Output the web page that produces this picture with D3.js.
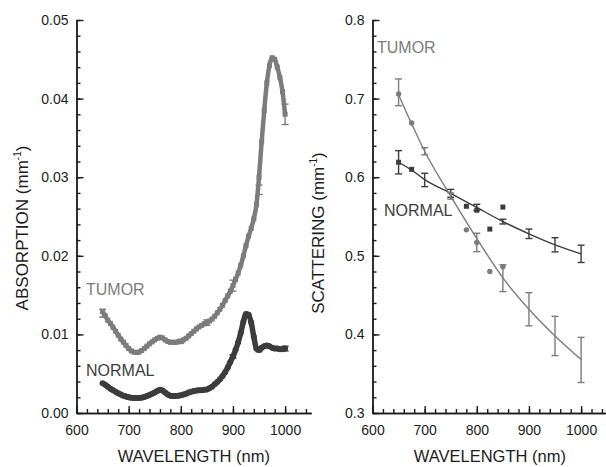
<!DOCTYPE html>
<html>
<head>
<meta charset="utf-8">
<script src="https://cdn.jsdelivr.net/npm/d3@7"></script>
<style>
  body { margin: 0; background: #fff; }
  text { font-family: "Liberation Sans", Arial, sans-serif; }
</style>
</head>
<body>
<div id="chart"></div>
<script>
// ---------- data ----------
// absorption spectra, 5 nm steps, values in 1e-3 mm^-1
var absWl = d3.range(650, 1001, 5);
var absTumor = [12.9, 12.4, 11.8, 11.4, 10.9, 10.4, 9.9, 9.4, 9.0, 8.6,
  8.2, 7.9, 7.75, 7.7, 7.75, 7.95, 8.2, 8.5, 8.8, 9.05,
  9.3, 9.5, 9.65, 9.55, 9.3, 9.1, 9.0, 9.0, 9.0, 9.05,
  9.15, 9.3, 9.5, 9.8, 10.1, 10.4, 10.7, 10.95, 11.15, 11.35,
  11.5, 11.7, 11.95, 12.3, 12.75, 13.2, 13.7, 14.3, 14.9, 15.5,
  16.2, 17.0, 17.8, 18.8, 20.0, 21.3, 22.5, 23.5, 24.7, 26.5,
  30.0, 34.5, 38.5, 42.0, 44.2, 45.2, 45.0, 44.0, 42.7, 40.9, 38.0];
var absNormal = [3.8, 3.6, 3.35, 3.1, 2.9, 2.7, 2.5, 2.35, 2.2, 2.1,
  2.0, 1.95, 1.9, 1.9, 1.9, 1.95, 2.05, 2.15, 2.3, 2.45,
  2.6, 2.8, 2.95, 2.85, 2.6, 2.35, 2.2, 2.15, 2.15, 2.2,
  2.25, 2.35, 2.45, 2.6, 2.7, 2.8, 2.85, 2.9, 2.9, 2.95,
  3.0, 3.15, 3.35, 3.65, 3.95, 4.3, 4.7, 5.2, 5.8, 6.5,
  7.2, 8.0, 9.0, 10.2, 11.6, 12.6, 12.5, 11.5, 9.7, 8.2,
  8.0, 8.3, 8.5, 8.6, 8.5, 8.3, 8.2, 8.2, 8.1, 8.1, 8.2];
// absorption error bars (wavelength, centre, half-width) in 1e-3 mm^-1
var absTumorErrWl = [650, 800, 850, 900, 950, 1000];
var absTumorErrVal = [12.7, 9.1, 11.5, 16.2, 28.4, 38.0];
var absTumorErr = [0.5, 0.25, 0.35, 0.7, 0.6, 1.3];
var absNormalErrWl = [900, 950, 1000];
var absNormalErrVal = [7.2, 8.0, 8.2];
var absNormalErr = [0.2, 0.2, 0.3];

// scattering: measured points
var scatWl = [650, 675, 780, 800, 825, 850];
var scatTumor = [0.706, 0.669, 0.533, 0.517, 0.480, 0.486];
var scatNormal = [0.619, 0.610, 0.563, 0.558, 0.534, 0.562];
// scattering: fitted curves with error bars
var fitWl = [650, 675, 700, 750, 800, 850, 900, 950, 1000];
var fitTumor = [0.705, 0.668, 0.633, 0.576, 0.522, 0.472, 0.432, 0.398, 0.368];
var fitNormal = [0.619, 0.609, 0.597, 0.5795, 0.5615, 0.5435, 0.528, 0.514, 0.5025];
var errWl = [650, 700, 750, 800, 850, 900, 950, 1000];
var errTumorVal = [0.708, 0.633, 0.576, 0.517, 0.4715, 0.432, 0.398, 0.3675];
var errTumor = [0.017, 0.0045, 0.004, 0.0117, 0.017, 0.021, 0.025, 0.0287];
var errNormalVal = [0.619, 0.5965, 0.5795, 0.5615, 0.5435, 0.528, 0.514, 0.5025];
var errNormal = [0.0148, 0.0085, 0.005, 0.004, 0.003, 0.006, 0.009, 0.011];

var xTicks = [600, 700, 800, 900, 1000];
var absTicks = [0, 0.01, 0.02, 0.03, 0.04, 0.05];
var scatTicks = [0.3, 0.4, 0.5, 0.6, 0.7, 0.8];

var cTumor = "#7c7c7c";
var cNormal = "#3c3c3c";
var cInk = "#1c1c1c";

// ---------- drawing ----------
var width = 606, height = 467;
var svg = d3.select("#chart").append("svg")
  .attr("width", width)
  .attr("height", height);

function panel(left, yDomain, yTicks, yFmt, yMinorStep, title, titleY) {
  var x = d3.scaleLinear().domain([600, 1050]).range([left, left + 450 * 0.5215]);
  var y = d3.scaleLinear().domain(yDomain).range([413, 20]);
  var g = svg.append("g");

  var xMinor = d3.range(600, 1050, 20);
  var yMinor = d3.range(yDomain[0], yDomain[1] + yMinorStep / 2, yMinorStep);

  g.append("g").attr("transform", "translate(0,413)")
    .call(d3.axisBottom(x).tickValues(xMinor).tickSizeInner(-4).tickSizeOuter(0).tickFormat(""));
  g.append("g").attr("transform", "translate(0,413)")
    .call(d3.axisBottom(x).tickValues(xTicks).tickSizeInner(-7).tickSizeOuter(0)
      .tickPadding(12).tickFormat(d3.format("d")));
  g.append("g").attr("transform", "translate(" + left + ",0)")
    .call(d3.axisLeft(y).tickValues(yMinor).tickSizeInner(-4).tickSizeOuter(0).tickFormat(""));
  g.append("g").attr("transform", "translate(" + left + ",0)")
    .call(d3.axisLeft(y).tickValues(yTicks).tickSizeInner(-7).tickSizeOuter(0)
      .tickPadding(8).tickFormat(yFmt));

  g.selectAll(".tick text").attr("font-size", "14px").attr("fill", cInk)
    .attr("font-family", "Liberation Sans, Arial, sans-serif");
  g.selectAll(".domain, .tick line").attr("stroke", cInk).attr("stroke-width", 1.4);

  g.append("text")
    .attr("x", (x.range()[0] + x.range()[1]) / 2)
    .attr("y", 462)
    .attr("text-anchor", "middle")
    .attr("font-size", "16.5px")
    .attr("fill", cInk)
    .text("WAVELENGTH (nm)");

  var t = g.append("text")
    .attr("transform", "translate(" + (left - 49) + "," + titleY + ") rotate(-90)")
    .attr("text-anchor", "middle")
    .attr("font-size", "17px")
    .attr("fill", cInk);
  t.append("tspan").text(title + " (mm");
  t.append("tspan").attr("font-size", "10px").attr("dy", "-7").text("-1");
  t.append("tspan").attr("dy", "7").text(")");

  return { g: g, x: x, y: y };
}

function errorBars(p, wl, val, err, color) {
  var sel = p.g.append("g").selectAll("g").data(wl).enter().append("g")
    .attr("stroke", color).attr("stroke-width", 1.4);
  sel.append("line")
    .attr("x1", function(d) { return p.x(d); }).attr("x2", function(d) { return p.x(d); })
    .attr("y1", function(d, i) { return p.y(val[i] - err[i]); })
    .attr("y2", function(d, i) { return p.y(val[i] + err[i]); });
  [1, -1].forEach(function(s) {
    sel.append("line")
      .attr("x1", function(d) { return p.x(d) - 3.5; }).attr("x2", function(d) { return p.x(d) + 3.5; })
      .attr("y1", function(d, i) { return p.y(val[i] + s * err[i]); })
      .attr("y2", function(d, i) { return p.y(val[i] + s * err[i]); });
  });
}

// ---- left: absorption ----
var pa = panel(76.5, [0, 0.05], absTicks, d3.format(".2f"), 0.002, "ABSORPTION", 228);

var absLine = d3.line()
  .x(function(d) { return pa.x(d[0]); })
  .y(function(d) { return pa.y(d[1] / 1000); })
  .curve(d3.curveMonotoneX);

var normPts = absWl.map(function(w, i) { return [w, absNormal[i]]; });
var tumPts = absWl.map(function(w, i) { return [w, absTumor[i]]; });

pa.g.append("path").datum(normPts).attr("d", absLine)
  .attr("fill", "none").attr("stroke", cNormal).attr("stroke-width", 5.5);
pa.g.append("g").selectAll("circle").data(normPts).enter().append("circle")
  .attr("cx", function(d) { return pa.x(d[0]); })
  .attr("cy", function(d) { return pa.y(d[1] / 1000); })
  .attr("r", 3).attr("fill", cNormal);
errorBars(pa, absNormalErrWl, absNormalErrVal.map(function(v) { return v / 1000; }),
  absNormalErr.map(function(v) { return v / 1000; }), cNormal);

pa.g.append("path").datum(tumPts).attr("d", absLine)
  .attr("fill", "none").attr("stroke", cTumor).attr("stroke-width", 4.5);
pa.g.append("g").selectAll("rect").data(tumPts).enter().append("rect")
  .attr("x", function(d) { return pa.x(d[0]) - 2.5; })
  .attr("y", function(d) { return pa.y(d[1] / 1000) - 2.5; })
  .attr("width", 5).attr("height", 5).attr("fill", cTumor);
errorBars(pa, absTumorErrWl, absTumorErrVal.map(function(v) { return v / 1000; }),
  absTumorErr.map(function(v) { return v / 1000; }), cTumor);

pa.g.append("text").attr("x", 86).attr("y", 295).attr("font-size", "16px")
  .attr("fill", cTumor).text("TUMOR");
pa.g.append("text").attr("x", 86).attr("y", 376).attr("font-size", "16px")
  .attr("fill", cNormal).text("NORMAL");

// ---- right: scattering ----
var ps = panel(372.5, [0.3, 0.8], scatTicks, d3.format(".1f"), 0.02, "SCATTERING", 233);

var fitLine = function(vals) {
  return d3.line()
    .x(function(d) { return ps.x(d); })
    .y(function(d, i) { return ps.y(vals[i]); })
    .curve(d3.curveMonotoneX)(fitWl);
};

ps.g.append("path").attr("d", fitLine(fitNormal))
  .attr("fill", "none").attr("stroke", cNormal).attr("stroke-width", 1.4);
ps.g.append("path").attr("d", fitLine(fitTumor))
  .attr("fill", "none").attr("stroke", cTumor).attr("stroke-width", 1.4);

errorBars(ps, errWl, errNormalVal, errNormal, cNormal);
errorBars(ps, errWl, errTumorVal, errTumor, cTumor);

ps.g.append("g").selectAll("rect").data(scatWl).enter().append("rect")
  .attr("x", function(d) { return ps.x(d) - 2.5; })
  .attr("y", function(d, i) { return ps.y(scatNormal[i]) - 2.5; })
  .attr("width", 5).attr("height", 5).attr("fill", cNormal);
ps.g.append("g").selectAll("circle").data(scatWl).enter().append("circle")
  .attr("cx", function(d) { return ps.x(d); })
  .attr("cy", function(d, i) { return ps.y(scatTumor[i]); })
  .attr("r", 2.7).attr("fill", cTumor);

ps.g.append("text").attr("x", 377).attr("y", 53).attr("font-size", "16px")
  .attr("fill", cTumor).text("TUMOR");
ps.g.append("text").attr("x", 384).attr("y", 216).attr("font-size", "16px")
  .attr("fill", cNormal).text("NORMAL");
</script>
</body>
</html>
